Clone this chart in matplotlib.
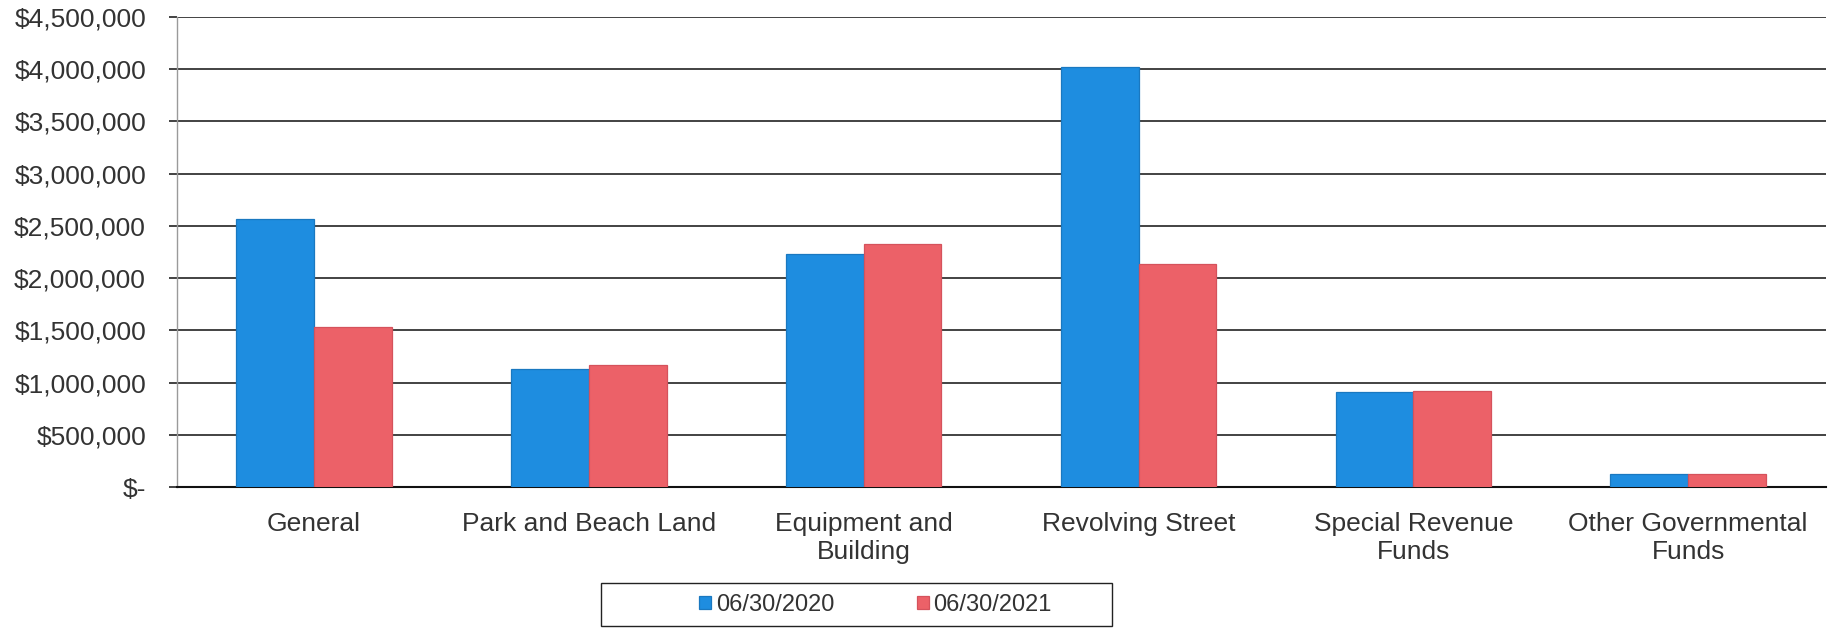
import matplotlib
matplotlib.use("Agg")
import matplotlib.pyplot as plt
import numpy as np
from matplotlib.patches import Rectangle
from matplotlib.ticker import FuncFormatter, MultipleLocator

plt.rcParams["font.family"] = ["Liberation Sans", "DejaVu Sans"]

categories = [
    "General",
    "Park and Beach Land",
    "Equipment and\nBuilding",
    "Revolving Street",
    "Special Revenue\nFunds",
    "Other Governmental\nFunds",
]
series_labels = ["06/30/2020", "06/30/2021"]
balance_2020 = [2567000, 1127000, 2229000, 4023000, 910000, 120000]
balance_2021 = [1533000, 1169000, 2325000, 2136000, 922000, 125000]

BLUE = "#1e8de0"
RED = "#ec6168"
TEXT = "#333333"
GRID = "#222222"


def money(v, _pos):
    if v == 0:
        return "$-"
    return f"${v:,.0f}"


fig = plt.figure(figsize=(18.32, 6.28), dpi=100)
ax = fig.add_axes([0.0964, 0.2245, 0.9001, 0.7485])

x = np.arange(len(categories))
w = 0.283
ax.bar(x - w / 2, balance_2020, w, color=BLUE, edgecolor="#1a78c0", linewidth=0.9,
       label=series_labels[0], zorder=3)
ax.bar(x + w / 2, balance_2021, w, color=RED, edgecolor="#d5525c", linewidth=0.9,
       label=series_labels[1], zorder=3)

ax.set_xlim(-0.5, len(categories) - 0.5)
ax.set_ylim(0, 4500000)
ax.yaxis.set_major_locator(MultipleLocator(500000))
ax.yaxis.set_major_formatter(FuncFormatter(money))
ax.grid(axis="y", color=GRID, linewidth=1.2, zorder=0)

ax.set_xticks(x)
ax.set_xticklabels(categories, fontsize=19, color=TEXT, linespacing=1.2)
ax.tick_params(axis="x", length=0, pad=18)
ax.tick_params(axis="y", length=6, width=1.2, color=GRID, labelsize=19,
               labelcolor=TEXT, pad=16)

for side in ("top", "right"):
    ax.spines[side].set_visible(False)
ax.spines["left"].set_color("#9a9a9a")
ax.spines["left"].set_linewidth(1.0)
ax.spines["bottom"].set_color("#111111")
ax.spines["bottom"].set_linewidth(1.5)

# legend box below the axis labels
handles, labels = ax.get_legend_handles_labels()
fig.legend(handles, labels, loc="center", bbox_to_anchor=(0.478, 0.037),
           ncol=2, frameon=False, fontsize=17, handlelength=0.5,
           handleheight=0.5, handletextpad=0.2, columnspacing=3.5,
           labelcolor=TEXT)
fig.add_artist(Rectangle((0.328, 0.003), 0.279, 0.069, transform=fig.transFigure,
                         fill=False, edgecolor="#222222", linewidth=1.0))

fig.savefig("out.png", dpi=100, facecolor="white")
